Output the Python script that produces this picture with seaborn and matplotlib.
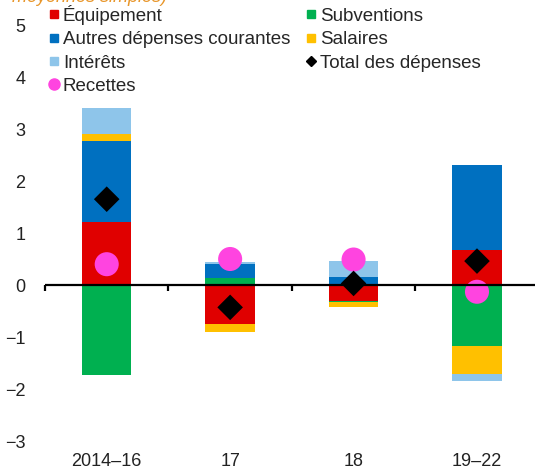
import matplotlib
matplotlib.use("Agg")
import matplotlib.pyplot as plt
from matplotlib.lines import Line2D
import seaborn as sns
import pandas as pd
import numpy as np

categories = ["2014–16", "17", "18", "19–22"]
equipement = [1.21, -0.75, -0.30, 0.68]
subventions = [-1.74, 0.13, -0.02, -1.18]
autres = [1.55, 0.27, 0.16, 1.63]
salaires = [0.14, -0.16, -0.11, -0.53]
interets = [0.50, 0.05, 0.30, -0.14]
total = [1.65, -0.43, 0.03, 0.46]
recettes = [0.40, 0.50, 0.49, -0.13]

series_names = ["Équipement", "Subventions", "Autres dépenses courantes", "Salaires", "Intérêts"]
series_vals = [equipement, subventions, autres, salaires, interets]
colors = {"Équipement": "#E00000", "Subventions": "#00B050",
          "Autres dépenses courantes": "#0070C0", "Salaires": "#FFC000",
          "Intérêts": "#8EC5EA"}
pink = "#FF44E0"

sns.set_theme(style="white")
plt.rcParams["font.family"] = ["Liberation Sans", "DejaVu Sans"]

fig = plt.figure(figsize=(5.35, 4.76), dpi=100)
ax = fig.add_axes([45/535, 35/476, 1 - 45/535, 416/476])

pos_base = np.zeros(len(categories))
neg_base = np.zeros(len(categories))
for name, vals in zip(series_names, series_vals):
    v = np.array(vals, dtype=float)
    bottoms = np.where(v >= 0, pos_base, neg_base)
    df = pd.DataFrame({"cat": categories, "val": v})
    sns.barplot(data=df, x="cat", y="val", color=colors[name], bottom=bottoms,
                width=0.4, ax=ax, saturation=1, linewidth=0, errorbar=None)
    pos_base = pos_base + np.where(v >= 0, v, 0)
    neg_base = neg_base + np.where(v < 0, v, 0)

dft = pd.DataFrame({"cat": categories, "total": total, "rec": recettes})
sns.scatterplot(data=dft, x="cat", y="total", marker="D", s=170, color="black",
                edgecolor="none", ax=ax, zorder=5)
sns.scatterplot(data=dft, x="cat", y="rec", marker="o", s=300, color=pink,
                edgecolor="none", ax=ax, zorder=4)

ax.set_xlim(-0.5, 3.47)
ax.set_ylim(-3, 5)
ax.set_yticks([-3, -2, -1, 0, 1, 2, 3, 4, 5])
ax.set_yticklabels(["−3", "−2", "−1", "0", "1", "2", "3", "4", "5"])
ax.set_xlabel("")
ax.set_ylabel("")
for s in ax.spines.values():
    s.set_visible(False)
ax.tick_params(axis="y", length=0, pad=14, labelsize=13, colors="#222222")
ax.tick_params(axis="x", length=0, pad=9, labelsize=13, colors="#222222")
ax.axhline(0, color="black", lw=1.6, zorder=6)

sec = ax.secondary_xaxis(3/8)
sec.set_xticks([-0.5, 0.5, 1.5, 2.5])
sec.set_xticklabels([])
sec.tick_params(axis="x", direction="out", length=4, width=1.6, color="black")
sec.spines["bottom"].set_visible(False)

fig.text(12/535, 1 - 2/476, "moyennes simples)", color="#E8962A", style="italic",
         fontsize=13, va="baseline", ha="left")

handles = {
    "Équipement": Line2D([], [], marker="s", ls="none", color=colors["Équipement"], markersize=6.3),
    "Subventions": Line2D([], [], marker="s", ls="none", color=colors["Subventions"], markersize=6.3),
    "Autres dépenses courantes": Line2D([], [], marker="s", ls="none", color=colors["Autres dépenses courantes"], markersize=6.3),
    "Salaires": Line2D([], [], marker="s", ls="none", color=colors["Salaires"], markersize=6.3),
    "Intérêts": Line2D([], [], marker="s", ls="none", color=colors["Intérêts"], markersize=6.3),
    "Total des dépenses": Line2D([], [], marker="D", ls="none", color="black", markersize=5.5),
    "Recettes": Line2D([], [], marker="o", ls="none", color=pink, markersize=8),
}
order = ["Équipement", "Autres dépenses courantes", "Intérêts", "Recettes",
         "Subventions", "Salaires", "Total des dépenses"]
fig.legend([handles[k] for k in order], order, ncol=2, loc="upper left",
           bbox_to_anchor=(48/535, 1 - 5/476), frameon=False, fontsize=13.5,
           handlelength=0.6, handletextpad=0.2, labelspacing=0.33,
           columnspacing=0.8, borderpad=0, borderaxespad=0)

fig.savefig("out.png", dpi=100)
